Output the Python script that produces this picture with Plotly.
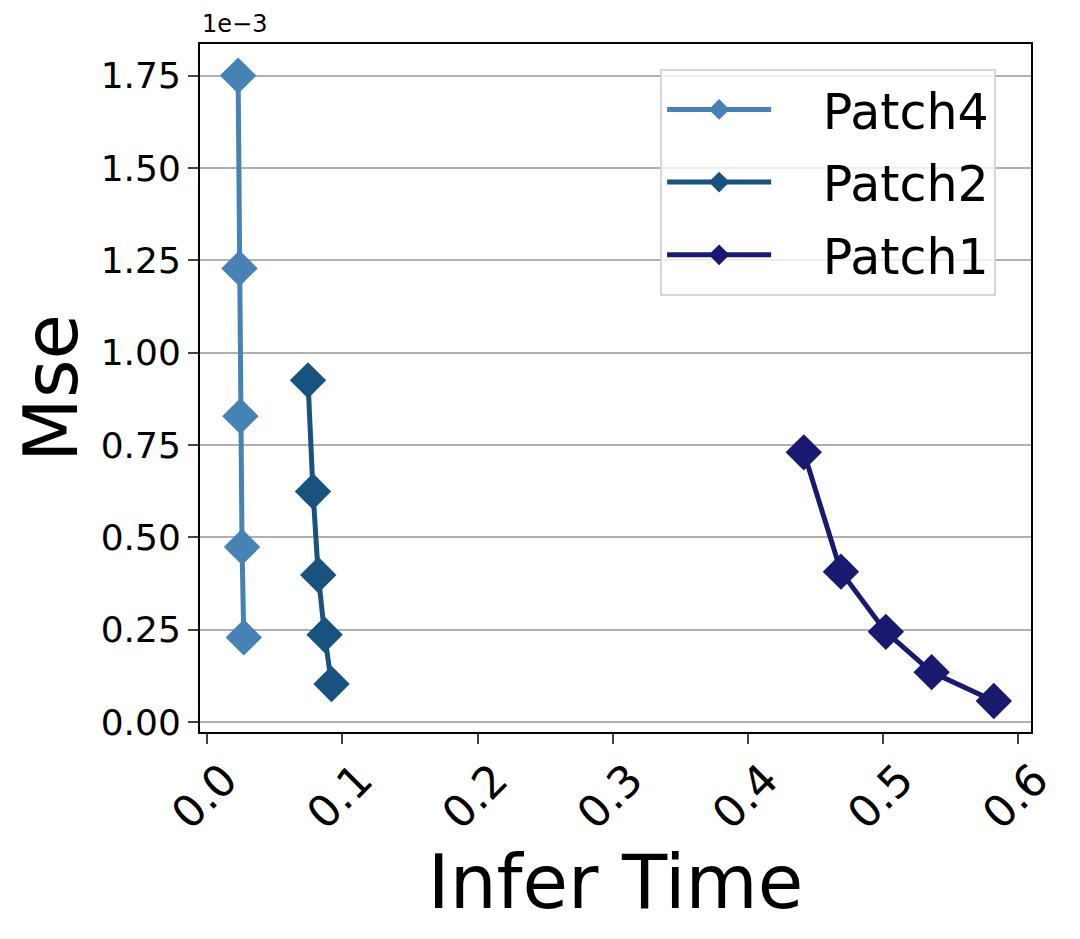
import plotly.graph_objects as go

# Infer time (s) and MSE (in units of 1e-3) for each patch setting
patch4_time = [0.0228, 0.0238, 0.0245, 0.0257, 0.0270]
patch4_mse = [1.750, 1.228, 0.828, 0.474, 0.229]

patch2_time = [0.0745, 0.0782, 0.0821, 0.0868, 0.0919]
patch2_mse = [0.925, 0.624, 0.398, 0.236, 0.103]

patch1_time = [0.4413, 0.4688, 0.5020, 0.5359, 0.5819]
patch1_mse = [0.730, 0.407, 0.244, 0.135, 0.057]

series = [
    ("Patch4", patch4_time, patch4_mse, "#4682b4"),
    ("Patch2", patch2_time, patch2_mse, "#17537e"),
    ("Patch1", patch1_time, patch1_mse, "#191970"),
]

font = "DejaVu Sans"
pad = "\u00a0\u00a0\u00a0"  # gap between legend sample and label

fig = go.Figure()
for name, xs, ys, color in series:
    fig.add_trace(
        go.Scatter(
            x=xs,
            y=ys,
            mode="lines+markers",
            name=pad + name,
            legendgroup=name,
            line=dict(color=color, width=5),
            marker=dict(symbol="diamond", size=28, color=color),
        )
    )

# the page adds an 8px body margin, so margins are offset by that
fig.update_layout(
    width=1080,
    height=939,
    margin=dict(l=192, r=57, t=36, b=215),
    paper_bgcolor="white",
    plot_bgcolor="white",
    font=dict(family=font, color="black"),
    showlegend=True,
    legend=dict(
        x=0.5537,
        y=0.9636,
        xanchor="left",
        yanchor="top",
        font=dict(size=49, family=font),
        bgcolor="rgba(255,255,255,0.8)",
        bordercolor="#d6d6d6",
        borderwidth=2,
        itemwidth=104,
        tracegroupgap=6,
    ),
    annotations=[
        dict(
            text="1e\u22123",
            xref="paper",
            yref="paper",
            x=0,
            y=1,
            xanchor="left",
            yanchor="bottom",
            yshift=4,
            showarrow=False,
            font=dict(size=24, family=font),
        )
    ],
)

fig.update_xaxes(
    range=[-0.0054, 0.6094],
    dtick=0.1,
    tick0=0,
    tickformat=".1f",
    tickangle=-45,
    ticklabelshift=17,
    ticklabelstandoff=-8,
    tickfont=dict(size=44),
    ticks="outside",
    ticklen=10,
    tickwidth=2,
    showgrid=False,
    zeroline=False,
    showline=True,
    linecolor="black",
    linewidth=2,
    mirror=True,
    title=dict(text="Infer Time", font=dict(size=74), standoff=2),
)

fig.update_yaxes(
    range=[-0.0271, 1.8356],
    dtick=0.25,
    tick0=0,
    tickformat=".2f",
    tickfont=dict(size=36),
    ticks="outside",
    ticklen=10,
    tickwidth=2,
    showgrid=True,
    gridcolor="#b0b0b0",
    gridwidth=2,
    zeroline=False,
    showline=True,
    linecolor="black",
    linewidth=2,
    mirror=True,
    title=dict(text="Mse", font=dict(size=74), standoff=10),
)

fig.write_html("out.html")
